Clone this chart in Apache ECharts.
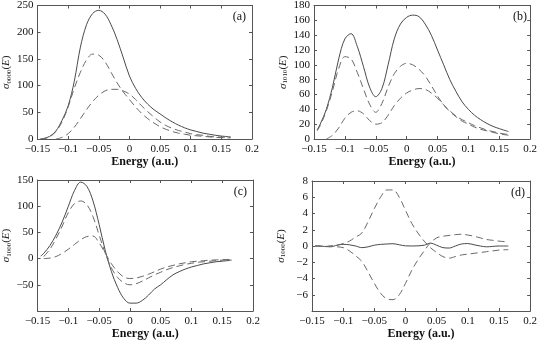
<!DOCTYPE html>
<html>
<head>
<meta charset="utf-8">
<script src="https://cdn.jsdelivr.net/npm/echarts@6/dist/echarts.min.js"></script>
<style>
  html, body { margin: 0; padding: 0; background: #fff; }
  #chart { width: 540px; height: 341px; }
</style>
</head>
<body>
<div id="chart"></div>
<script>
// energy grid (a.u.) shared by all panels
const energy = [-0.145, -0.14, -0.13, -0.12, -0.11, -0.1, -0.09, -0.08, -0.07, -0.06, -0.05, -0.04,
  -0.03, -0.02, -0.01, 0, 0.01, 0.02, 0.03, 0.04, 0.05, 0.06, 0.07, 0.08, 0.09, 0.1, 0.11, 0.12,
  0.13, 0.14, 0.15, 0.165]

// (a) sigma_0000
const aTotal = [0.5, 1, 5, 15, 35, 62, 108, 172, 214, 235, 241, 234, 214, 186, 152, 118, 95, 78, 65, 55, 47, 39, 32, 26, 21, 17, 14, 11, 9, 7, 5.5, 4]
const aPart1 = [0, 0.5, 4, 14, 32, 60, 95, 125, 148, 159, 157, 145, 125, 105, 88, 74, 60, 48, 38, 30, 23, 18, 14, 11, 9, 7, 6, 5, 4, 3, 2.5, 2]
const aPart2 = [null, null, null, 0, 3, 10, 22, 38, 55, 70, 82, 90, 93, 93, 90, 84, 74, 62, 51, 41, 32, 25, 20, 16, 13, 10, 8, 7, 5, 4, 3.5, 3]

// (b) sigma_1010
const bTotal = [12, 20, 40, 70, 108, 135, 142, 125, 98, 70, 57, 68, 100, 135, 155, 164, 167, 165, 155, 140, 120, 100, 80, 64, 50, 40, 32, 26, 21, 17, 14, 10]
const bPart1 = [11, 18, 38, 65, 95, 111, 108, 90, 68, 47, 36, 48, 70, 88, 98, 102, 100, 94, 85, 72, 58, 46, 37, 30, 24, 20, 16, 13, 11, 9, 7, 5]
const bPart2 = [null, null, 0, 5, 15, 28, 36, 38, 34, 25, 20, 22, 32, 45, 55, 62, 66, 68, 67, 62, 55, 46, 38, 31, 26, 22, 18, 15, 12, 10, 8, 6]

// (c) sigma_1000
const cTotal = [5, 10, 25, 45, 70, 100, 130, 146, 138, 110, 65, 15, -25, -55, -76, -85, -85, -80, -70, -58, -50, -40, -31, -25, -20, -16, -13, -10, -8, -6, -5, -3]
const cPart1 = [null, 4, 18, 38, 62, 88, 105, 110, 103, 80, 45, 10, -18, -36, -46, -50, -48, -43, -37, -31, -26, -21, -17, -14, -11, -9, -7, -6, -5, -4, -3, -2]
const cPart2 = [null, 0, 1, 4, 10, 18, 27, 36, 42, 43, 30, 10, -10, -25, -35, -38, -37, -34, -30, -25, -20, -16, -13, -10, -8, -6, -5, -4, -3, -2.5, -2, -1.5]

// (d) sigma_1000, small terms
const dTotal = [0, 0, -0.05, -0.1, 0.1, 0.2, 0.15, 0, -0.2, -0.1, 0.1, 0.2, 0.25, 0.28, 0.15, 0.02, 0, 0.02, 0.1, 0.35, 0.1, -0.2, -0.25, 0, 0.25, 0.3, 0.15, 0, -0.1, -0.05, 0, 0]
const dPart1 = [0, 0, -0.1, 0, 0.1, 0.3, 0.6, 1.1, 1.6, 3.0, 4.6, 6.0, 6.9, 6.9, 6.0, 4.4, 2.8, 1.6, 0.6, -0.2, -0.8, -1.3, -1.5, -1.3, -1.1, -1.0, -0.9, -0.8, -0.7, -0.6, -0.5, -0.45]
const dPart2 = [0, 0, -0.05, 0, -0.1, -0.2, -0.6, -1.2, -1.9, -3.2, -4.6, -5.8, -6.5, -6.6, -6.0, -4.6, -3.0, -1.7, -0.6, 0.4, 1.0, 1.2, 1.3, 1.4, 1.45, 1.35, 1.2, 1.0, 0.8, 0.7, 0.6, 0.5]

const panels = [
  { tag: '(a)', sub: '0000', y: [0, 250, 50], series: [aTotal, aPart1, aPart2], hide: null },
  { tag: '(b)', sub: '1010', y: [0, 180, 20], series: [bTotal, bPart1, bPart2], hide: null },
  { tag: '(c)', sub: '1000', y: [-100, 150, 50], series: [cTotal, cPart1, cPart2], hide: -100 },
  { tag: '(d)', sub: '1000', y: [-8, 8, 2], series: [dTotal, dPart1, dPart2], hide: -8 }
]

const grids = [
  { left: 37, top: 5, width: 215, height: 134 },
  { left: 314, top: 5, width: 219, height: 134 },
  { left: 37, top: 180, width: 216, height: 135 },
  { left: 312, top: 181, width: 219, height: 134 }
]

const FONT = 'Liberation Serif'
const AXIS = '#555'
const minus = v => String(v).replace('-', '\u2212')

const pairs = arr => energy.map((e, i) => [e, arr[i]])

const chart = echarts.init(document.getElementById('chart'), null, { renderer: 'canvas' })

const xAxis = []
const yAxis = []
const series = []
const graphic = []

panels.forEach((p, k) => {
  // bottom axis
  xAxis.push({
    gridIndex: k, type: 'value', min: -0.15, max: 0.2, interval: 0.05,
    name: 'Energy (a.u.)', nameLocation: 'middle', nameGap: 17,
    nameTextStyle: { fontFamily: FONT, fontWeight: 'bold', fontSize: 12, color: '#111' },
    axisLine: { onZero: false, lineStyle: { color: AXIS, width: 1 } },
    axisTick: { inside: true, length: 3, lineStyle: { color: AXIS } },
    axisLabel: { fontFamily: FONT, fontSize: 11, color: '#111', margin: 5, formatter: minus },
    splitLine: { show: false }
  })
  // top mirror
  xAxis.push({
    gridIndex: k, type: 'value', position: 'top', min: -0.15, max: 0.2, interval: 0.05,
    axisLine: { onZero: false, lineStyle: { color: AXIS, width: 1 } },
    axisTick: { inside: true, length: 3, lineStyle: { color: AXIS } },
    axisLabel: { show: false },
    splitLine: { show: false }
  })
  yAxis.push({
    gridIndex: k, type: 'value', min: p.y[0], max: p.y[1], interval: p.y[2],
    name: '{s|σ}{sub|' + p.sub + '}{n|(}{s|E}{n|)}',
    nameLocation: 'middle', nameRotate: 90, nameGap: 25,
    nameTextStyle: {
      fontFamily: FONT, color: '#222',
      rich: {
        s: { fontFamily: FONT, fontStyle: 'italic', fontSize: 11, color: '#222' },
        n: { fontFamily: FONT, fontSize: 11, color: '#222' },
        sub: { fontFamily: FONT, fontSize: 7, color: '#222', padding: [5, 0, 0, 0] }
      }
    },
    axisLine: { show: true, onZero: false, lineStyle: { color: AXIS, width: 1 } },
    axisTick: { inside: true, length: 3, lineStyle: { color: AXIS } },
    axisLabel: {
      fontFamily: FONT, fontSize: 11, color: '#111', margin: 4,
      formatter: v => (v === p.hide ? '' : minus(v))
    },
    splitLine: { show: false }
  })
  yAxis.push({
    gridIndex: k, type: 'value', position: 'right', min: p.y[0], max: p.y[1], interval: p.y[2],
    axisLine: { show: true, onZero: false, lineStyle: { color: AXIS, width: 1 } },
    axisTick: { inside: true, length: 3, lineStyle: { color: AXIS } },
    axisLabel: { show: false },
    splitLine: { show: false }
  })

  p.series.forEach((vals, j) => {
    series.push({
      type: 'line',
      xAxisIndex: k * 2,
      yAxisIndex: k * 2,
      data: pairs(vals),
      smooth: 0.35,
      showSymbol: false,
      animation: false,
      lineStyle: j === 0
        ? { color: '#4a4a4a', width: 1, type: 'solid' }
        : { color: '#6a6a6a', width: 1, type: [7, 4] }
    })
  })

  const g = grids[k]
  graphic.push({
    type: 'text',
    right: 540 - (g.left + g.width) + 6,
    top: g.top + 6,
    style: { text: p.tag, font: '12px "Liberation Serif"', fill: '#111' }
  })
})

chart.setOption({
  backgroundColor: '#fff',
  animation: false,
  grid: grids,
  xAxis: xAxis,
  yAxis: yAxis,
  series: series,
  graphic: graphic
})
</script>
</body>
</html>
